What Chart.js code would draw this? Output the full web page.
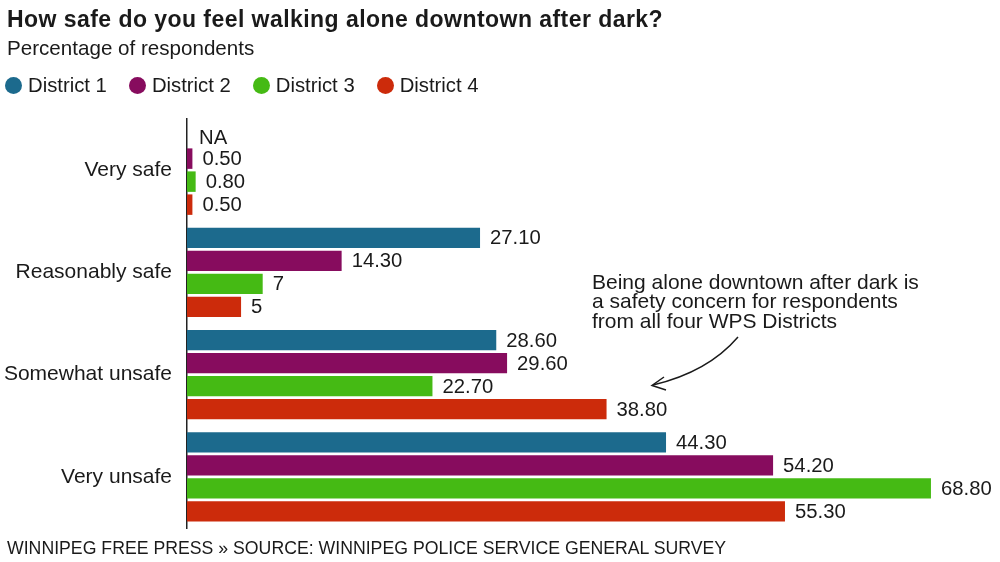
<!DOCTYPE html>
<html>
<head>
<meta charset="utf-8">
<script src="https://cdn.jsdelivr.net/npm/chart.js@4.4.1/dist/chart.umd.min.js"></script>
<style>
  body { margin: 0; background: #fff; font-family: "Liberation Sans", Arial, sans-serif; color: #1a1a1a; }
  #wrap { position: relative; width: 1000px; height: 562px; overflow: hidden; }
  #chart { position: absolute; left: 0; top: 0; }
  .txt { position: absolute; left: 7px; line-height: 1; white-space: nowrap; }
  #title { top: 8px; font-size: 23px; font-weight: bold; letter-spacing: 0.45px; }
  #subtitle { top: 38px; font-size: 20.6px; }
  #legend { top: 75px; font-size: 20.3px; display: flex; align-items: center; left: 5px; }
  #legend .item { display: flex; align-items: center; margin-right: 22px; }
  #legend .dot { width: 17px; height: 17px; border-radius: 50%; margin-right: 6px; }
  #footer { top: 540px; font-size: 17.7px; }
</style>
</head>
<body>
<div id="wrap">
  <canvas id="chart" width="1000" height="562"></canvas>
  <div class="txt" id="title">How safe do you feel walking alone downtown after dark?</div>
  <div class="txt" id="subtitle">Percentage of respondents</div>
  <div class="txt" id="legend"></div>
  <div class="txt" id="footer">WINNIPEG FREE PRESS » SOURCE: WINNIPEG POLICE SERVICE GENERAL SURVEY</div>
</div>
<script>
const categories = ['Very safe', 'Reasonably safe', 'Somewhat unsafe', 'Very unsafe'];
const seriesNames = ['District 1', 'District 2', 'District 3', 'District 4'];
const seriesColors = ['#1c6a8d', '#870c5e', '#45ba14', '#cc2b0b'];
const district1 = [null, 27.1, 28.6, 44.3];
const district2 = [0.5, 14.3, 29.6, 54.2];
const district3 = [0.8, 7, 22.7, 68.8];
const district4 = [0.5, 5, 38.8, 55.3];
const seriesValues = [district1, district2, district3, district4];
const noteLines = ['Being alone downtown after dark is', 'a safety concern for respondents', 'from all four WPS Districts'];

// legend in html
const legendEl = document.getElementById('legend');
seriesNames.forEach(function (name, i) {
    const item = document.createElement('div');
    item.className = 'item';
    item.innerHTML = '<span class="dot" style="background:' + seriesColors[i] + '"></span>' + name;
    legendEl.appendChild(item);
});

function fmt(v) {
    if (v === null) return 'NA';
    return Number.isInteger(v) ? String(v) : v.toFixed(2);
}

const valueLabels = {
    id: 'valueLabels',
    afterDatasetsDraw(chart) {
        const ctx = chart.ctx;
        const x0 = chart.scales.x.getPixelForValue(0);
        ctx.save();
        ctx.font = '20.3px "Liberation Sans", Arial, sans-serif';
        ctx.fillStyle = '#1a1a1a';
        ctx.textBaseline = 'middle';
        ctx.textAlign = 'left';
        chart.data.datasets.forEach(function (ds, di) {
            const meta = chart.getDatasetMeta(di);
            meta.data.forEach(function (bar, i) {
                const v = ds.data[i];
                const x = v === null ? x0 + 12 : bar.x + 10;
                ctx.fillText(fmt(v), x, bar.y + (v === null ? 3 : 1));
            });
        });
        ctx.restore();
    }
};

const noteArrow = {
    id: 'noteArrow',
    afterDraw(chart) {
        const ctx = chart.ctx;
        ctx.save();
        ctx.font = '21px "Liberation Sans", Arial, sans-serif';
        ctx.fillStyle = '#1a1a1a';
        ctx.textBaseline = 'middle';
        noteLines.forEach(function (t, i) {
            ctx.fillText(t, 592, 283 + i * 19.5);
        });
        // curved arrow
        ctx.strokeStyle = '#1a1a1a';
        ctx.lineWidth = 1.5;
        ctx.beginPath();
        ctx.moveTo(738, 337);
        ctx.quadraticCurveTo(708, 372, 653, 385);
        ctx.stroke();
        ctx.beginPath();
        ctx.moveTo(664, 377);
        ctx.lineTo(652, 385.5);
        ctx.lineTo(666, 390);
        ctx.stroke();
        ctx.restore();
    }
};

const ctx = document.getElementById('chart').getContext('2d');
const chart = new Chart(ctx, {
    type: 'bar',
    data: {
        labels: categories,
        datasets: seriesNames.map(function (name, i) {
            return {
                label: name,
                data: seriesValues[i],
                backgroundColor: seriesColors[i],
                categoryPercentage: 0.9,
                barPercentage: 0.89
            };
        })
    },
    options: {
        indexAxis: 'y',
        responsive: false,
        animation: false,
        layout: { padding: { top: 119, bottom: 34, right: 2, left: 0 } },
        scales: {
            x: { display: false, min: 0, max: 75 },
            y: {
                grid: { display: false, drawTicks: false },
                border: { display: true, color: '#222', width: 1.5 },
                ticks: {
                    color: '#1a1a1a',
                    padding: 15,
                    font: { size: 21, family: '"Liberation Sans", Arial, sans-serif' }
                },
                afterFit(axis) { axis.width = 187; }
            }
        },
        plugins: {
            legend: { display: false },
            tooltip: { enabled: false }
        }
    },
    plugins: [valueLabels, noteArrow]
});
</script>
</body>
</html>
